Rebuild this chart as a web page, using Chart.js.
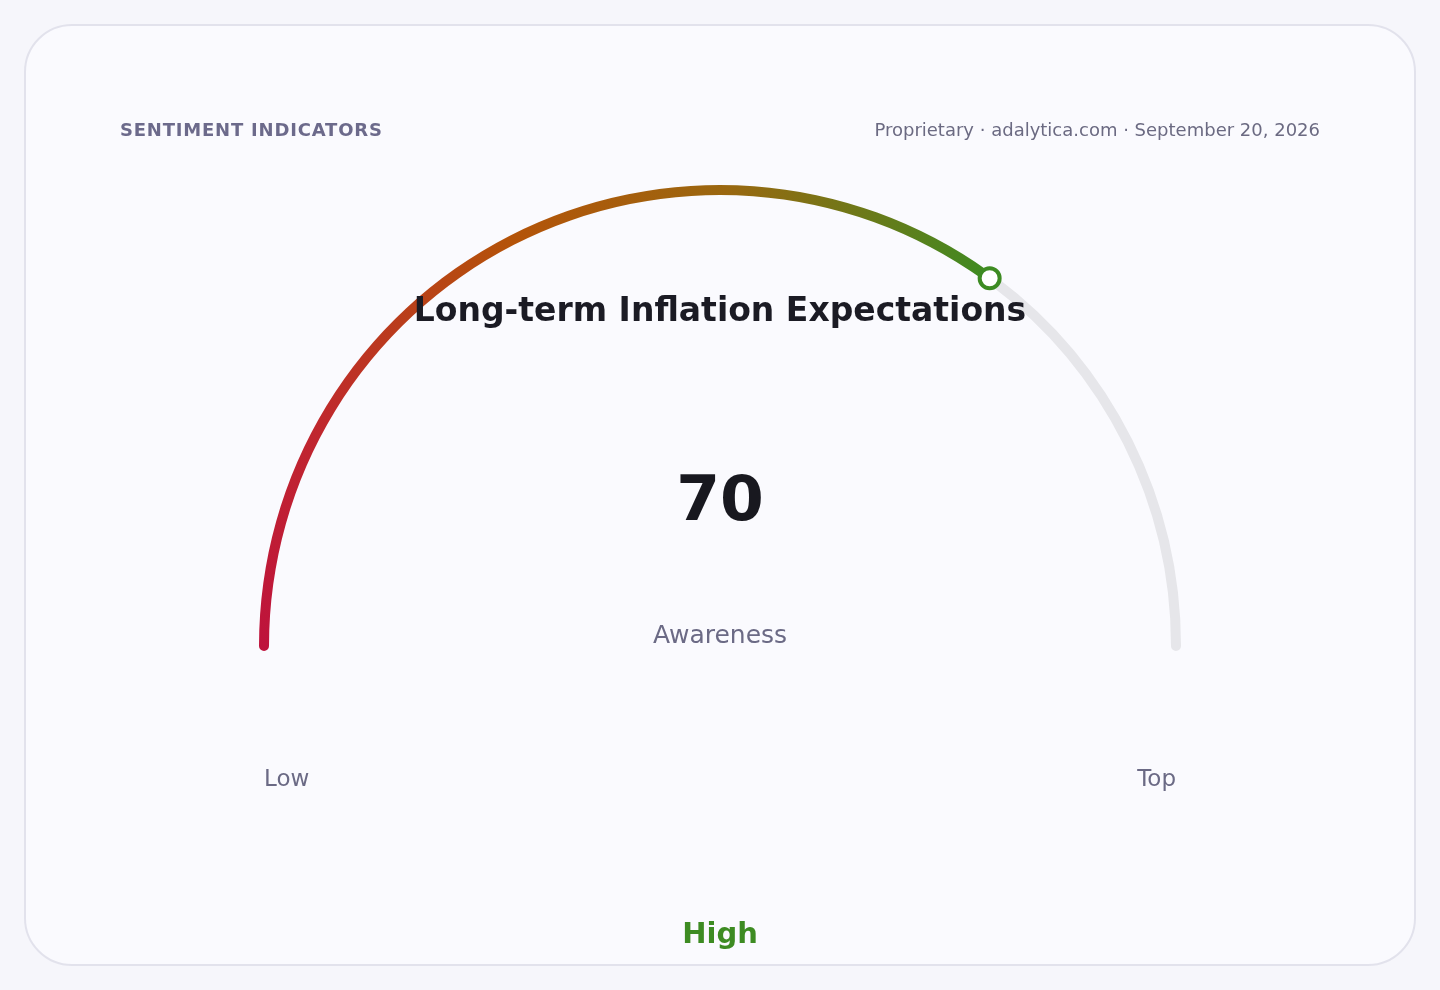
<!DOCTYPE html>
<html>
<head>
<meta charset="utf-8">
<title>Long-term Inflation Expectations</title>
<script src="https://cdn.jsdelivr.net/npm/chart.js@4.4.1/dist/chart.umd.min.js"></script>
<style>
    body {
        margin: 0;
        width: 1440px;
        height: 990px;
        overflow: hidden;
        position: relative;
        background: #f6f6fb;
        font-family: "DejaVu Sans", "Noto Sans", sans-serif;
    }
    .card {
        position: absolute;
        left: 24px;
        top: 24px;
        width: 1388px;
        height: 938px;
        border: 2px solid #e2e2ec;
        border-radius: 48px;
        background: #fafafe;
    }
    #gauge-wrap {
        position: absolute;
        left: 0;
        top: 0;
        width: 1440px;
        height: 990px;
    }
    .txt {
        position: absolute;
        line-height: 1;
        white-space: nowrap;
        transform: translateY(-50%);
        z-index: 2;
    }
    .center { left: 0; width: 1440px; text-align: center; }
    #kicker { left: 120px; top: 130px; font-size: 18px; font-weight: 700; letter-spacing: 0.8px; color: #6c6a8b; }
    #source { right: 120px; top: 130px; font-size: 18px; color: #6b6a82; }
    #title { top: 309px; font-size: 33px; font-weight: 700; color: #1b1b24; }
    #value { top: 498px; font-size: 63px; font-weight: 700; color: #18181f; }
    #reading { top: 634px; font-size: 25px; color: #6b6a85; }
    #low { left: 264px; top: 778px; font-size: 23px; color: #6b6a85; }
    #top { right: 264px; top: 778px; font-size: 23px; color: #6b6a85; }
    #band { top: 933px; font-size: 29px; font-weight: 700; color: #3d8b22; }
</style>
</head>
<body>
<div class="card"></div>
<div id="gauge-wrap"><canvas id="gauge"></canvas></div>

<div class="txt" id="kicker"></div>
<div class="txt" id="source"></div>
<div class="txt center" id="title"></div>
<div class="txt center" id="value"></div>
<div class="txt center" id="reading"></div>
<div class="txt" id="low"></div>
<div class="txt" id="top"></div>
<div class="txt center" id="band"></div>

<script>
(function () {

    // gauge data
    const gaugeLabels = ['Long-term Inflation Expectations', 'Remaining'];
    const gaugeValues = [70, 30];
    const endLabels = ['Low', 'Top'];
    const readingLabels = ['Awareness'];
    const bandLabels = ['High'];
    const headerTexts = ['SENTIMENT INDICATORS', 'Proprietary · adalytica.com · September 20, 2026'];

    // texts
    document.getElementById('kicker').textContent = headerTexts[0];
    document.getElementById('source').textContent = headerTexts[1];
    document.getElementById('title').textContent = gaugeLabels[0];
    document.getElementById('value').textContent = gaugeValues[0];
    document.getElementById('reading').textContent = readingLabels[0];
    document.getElementById('low').textContent = endLabels[0];
    document.getElementById('top').textContent = endLabels[1];
    document.getElementById('band').textContent = bandLabels[0];

    // small extension so the ends look like round line caps
    const capExt = 0.63;
    const trackColor = '#e6e6ea';
    const markerColor = '#3d8b22';

    // gradient along the filled part of the arc
    function fillColor(c) {
        if (c.dataIndex === 1) {
            return trackColor;
        }
        const area = c.chart.chartArea;
        const meta = c.chart.getDatasetMeta(0);
        if (!area || !meta.controller) {
            return '#b45309';
        }
        const cx = (area.left + area.right) / 2 + (meta.controller.offsetX || 0);
        const cy = (area.top + area.bottom) / 2 + (meta.controller.offsetY || 0);
        const total = gaugeValues.reduce((s, v) => s + v, 0);
        const sweep = (180 + 2 * capExt) * gaugeValues[0] / total;
        const startRad = Math.PI - capExt * Math.PI / 180;
        const frac = sweep / 360;
        const g = c.chart.ctx.createConicGradient(startRad, cx, cy);
        g.addColorStop(0, '#be123c');
        g.addColorStop(frac * 0.22, '#c0262f');
        g.addColorStop(frac * 0.5, '#b45309');
        g.addColorStop(frac * 0.72, '#9a6710');
        g.addColorStop(frac, markerColor);
        g.addColorStop(1, '#be123c');
        return g;
    }

    // marker ring at the end of the value arc
    const markerPlugin = {
        id: 'marker',
        afterDatasetsDraw(chart) {
            const arc = chart.getDatasetMeta(0).data[0];
            if (!arc) { return; }
            const p = arc.getProps(['x', 'y', 'endAngle', 'innerRadius', 'outerRadius'], true);
            const r = (p.innerRadius + p.outerRadius) / 2;
            const mx = p.x + Math.cos(p.endAngle) * r;
            const my = p.y + Math.sin(p.endAngle) * r;
            const ctx = chart.ctx;
            ctx.save();
            ctx.beginPath();
            ctx.arc(mx, my, 10, 0, Math.PI * 2);
            ctx.fillStyle = '#ffffff';
            ctx.fill();
            ctx.lineWidth = 4;
            ctx.strokeStyle = markerColor;
            ctx.stroke();
            ctx.restore();
        }
    };

    new Chart(document.getElementById('gauge'), {
        type: 'doughnut',
        data: {
            labels: gaugeLabels,
            datasets: [{
                data: gaugeValues,
                backgroundColor: fillColor,
                borderWidth: 0,
                borderRadius: 5,
                hoverOffset: 0
            }]
        },
        options: {
            responsive: true,
            maintainAspectRatio: false,
            animation: false,
            events: [],
            rotation: -90 - capExt,
            circumference: 180 + 2 * capExt,
            radius: 461,
            cutout: '97.83%',
            layout: {
                padding: { top: 0, bottom: 154 }
            },
            plugins: {
                legend: { display: false },
                tooltip: { enabled: false }
            }
        },
        plugins: [markerPlugin]
    });
})();
</script>
</body>
</html>
